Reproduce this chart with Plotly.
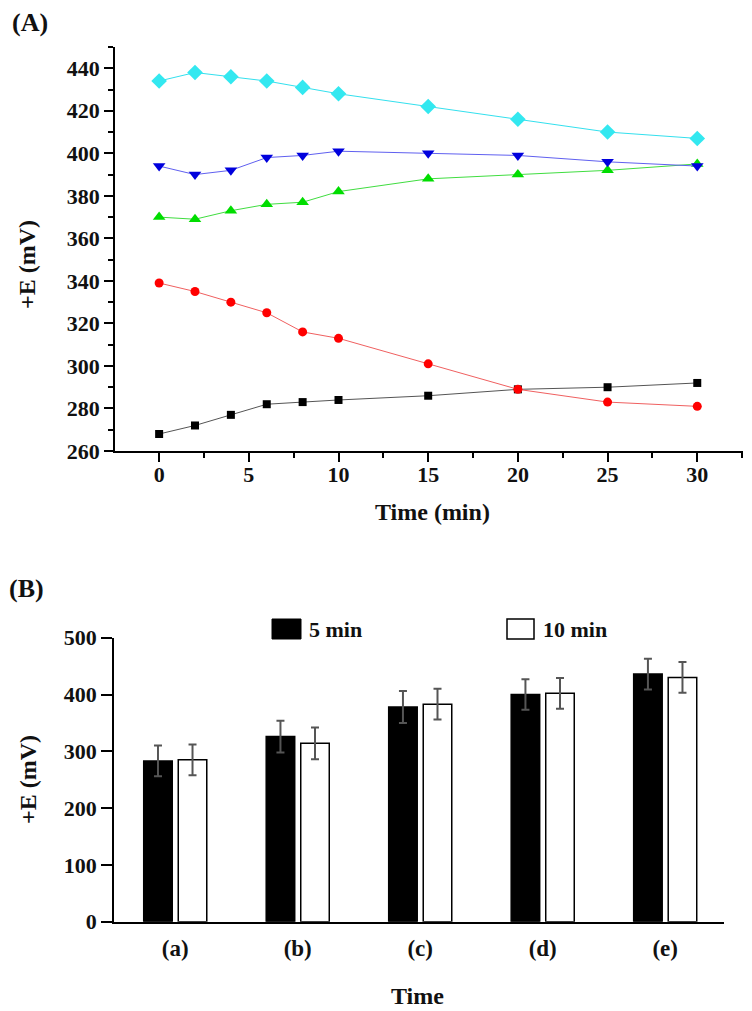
import plotly.graph_objects as go

# ---------------- data ----------------
time_min = [0, 2, 4, 6, 8, 10, 15, 20, 25, 30]
series_black = [268, 272, 277, 282, 283, 284, 286, 289, 290, 292]
series_red = [339, 335, 330, 325, 316, 313, 301, 289, 283, 281]
series_green = [370, 369, 373, 376, 377, 382, 388, 390, 392, 395]
series_blue = [394, 390, 392, 398, 399, 401, 400, 399, 396, 394]
series_cyan = [434, 438, 436, 434, 431, 428, 422, 416, 410, 407]

samples = ["(a)", "(b)", "(c)", "(d)", "(e)"]
e_5min = [283, 326, 378, 400, 436]
e_10min = [285, 314, 383, 402, 430]
err_5min = [27, 28, 28, 27, 27]
err_10min = [27, 28, 27, 27, 27]

W, H = 752, 1011
FONT = "Liberation Serif"
OFF = 8  # page body margin offset

def px_x(p):
    return (p - OFF) / W

def px_y(p):
    return 1 - (p - OFF) / H

fig = go.Figure()

line_specs = [
    (series_black, "#000000", "#555555", "square", 8),
    (series_red, "#ff0000", "#f06060", "circle", 9),
    (series_green, "#00dd00", "#40dd40", "triangle-up", 11),
    (series_blue, "#0000dd", "#6060f0", "triangle-down", 11),
    (series_cyan, "#33e8f0", "#33e0ee", "diamond", 12),
]
for vals, mcol, lcol, sym, sz in line_specs:
    fig.add_trace(go.Scatter(
        x=time_min, y=vals, mode="lines+markers",
        line=dict(color=lcol, width=1),
        marker=dict(color=mcol, symbol=sym, size=sz, line=dict(width=0)),
        xaxis="x", yaxis="y", showlegend=False,
    ))

fig.add_trace(go.Bar(
    x=samples, y=e_5min, name="5 min",
    marker=dict(color="#000000", line=dict(color="#000000", width=1.5)),
    error_y=dict(type="data", array=err_5min, color="#555555", thickness=2, width=4),
    xaxis="x2", yaxis="y2", showlegend=False,
))
fig.add_trace(go.Bar(
    x=samples, y=e_10min, name="10 min",
    marker=dict(color="#ffffff", line=dict(color="#000000", width=1.5)),
    error_y=dict(type="data", array=err_10min, color="#555555", thickness=2, width=4),
    xaxis="x2", yaxis="y2", showlegend=False,
))

tickfont = dict(family=FONT, size=22, color="#111111", weight="bold")

fig.update_layout(
    template="none",
    width=W, height=H,
    margin=dict(l=0, r=0, t=0, b=0, pad=0),
    paper_bgcolor="white", plot_bgcolor="white",
    font=dict(family=FONT, color="#111111", weight="bold"),
    barmode="group", bargap=0.436, bargroupgap=0.174,
    xaxis=dict(
        domain=[px_x(115), px_x(743)], range=[-2.46, 32.55], automargin=False,
        anchor="y", showgrid=False, zeroline=False,
        showline=True, linecolor="#000000", linewidth=1.5,
        ticks="outside", ticklen=9, tickwidth=1.5, tickcolor="#000000",
        tickmode="linear", tick0=0, dtick=5, tickfont=tickfont,
        ticklabelstandoff=-6,
        minor=dict(ticks="outside", ticklen=5, tickwidth=1.5, tickcolor="#000000",
                   dtick=2.5, tick0=0, showgrid=False),
    ),
    yaxis=dict(
        domain=[px_y(451), px_y(47)], range=[260, 450], automargin=False,
        anchor="x", showgrid=False, zeroline=False,
        showline=True, linecolor="#000000", linewidth=1.5,
        ticks="outside", ticklen=9, tickwidth=1.5, tickcolor="#000000",
        tickmode="linear", tick0=260, dtick=20, tickfont=tickfont,
        minor=dict(ticks="outside", ticklen=5, tickwidth=1.5, tickcolor="#000000",
                   dtick=10, tick0=260, showgrid=False),
    ),
    xaxis2=dict(
        domain=[px_x(114), px_x(724)], range=[-0.5, 4.48], automargin=False,
        anchor="y2", showgrid=False, zeroline=False,
        showline=True, linecolor="#000000", linewidth=1.5,
        ticks="", tickfont=dict(family=FONT, size=23, color="#111111", weight="bold"),
        ticklabelstandoff=5,
    ),
    yaxis2=dict(
        domain=[px_y(921.7), px_y(637.7)], range=[0, 500], automargin=False,
        anchor="x2", showgrid=False, zeroline=False,
        showline=True, linecolor="#000000", linewidth=1.5,
        ticks="outside", ticklen=11, tickwidth=1.5, tickcolor="#000000",
        tickmode="linear", tick0=0, dtick=100, tickfont=tickfont,
    ),
)

ann_font = dict(family=FONT, size=24, color="#111111", weight="bold")
annotations = [
    dict(text="(A)", x=px_x(10), y=px_y(23), xanchor="left", yanchor="middle",
         font=dict(family=FONT, size=26, color="#111111", weight="bold")),
    dict(text="(B)", x=px_x(7), y=px_y(588), xanchor="left", yanchor="middle",
         font=dict(family=FONT, size=26, color="#111111", weight="bold")),
    dict(text="+E (mV)", x=px_x(27), y=px_y(265), textangle=-90,
         xanchor="center", yanchor="middle", font=ann_font),
    dict(text="Time (min)", x=px_x(432), y=px_y(512),
         xanchor="center", yanchor="middle", font=ann_font),
    dict(text="+E (mV)", x=px_x(28), y=px_y(780), textangle=-90,
         xanchor="center", yanchor="middle", font=ann_font),
    dict(text="Time", x=px_x(417), y=px_y(996),
         xanchor="center", yanchor="middle", font=ann_font),
    dict(text="5 min", x=px_x(307), y=px_y(629), xanchor="left", yanchor="middle",
         font=dict(family=FONT, size=22, color="#111111", weight="bold")),
    dict(text="10 min", x=px_x(541), y=px_y(629), xanchor="left", yanchor="middle",
         font=dict(family=FONT, size=22, color="#111111", weight="bold")),
]
for a in annotations:
    a.update(xref="paper", yref="paper", showarrow=False)
fig.update_layout(annotations=annotations)

fig.update_layout(shapes=[
    dict(type="rect", xref="paper", yref="paper",
         x0=px_x(272), x1=px_x(301), y0=px_y(639), y1=px_y(619),
         fillcolor="#000000", line=dict(color="#000000", width=1)),
    dict(type="rect", xref="paper", yref="paper",
         x0=px_x(507), x1=px_x(534), y0=px_y(639), y1=px_y(619),
         fillcolor="#ffffff", line=dict(color="#000000", width=1.5)),
])

fig.write_html("out.html")
